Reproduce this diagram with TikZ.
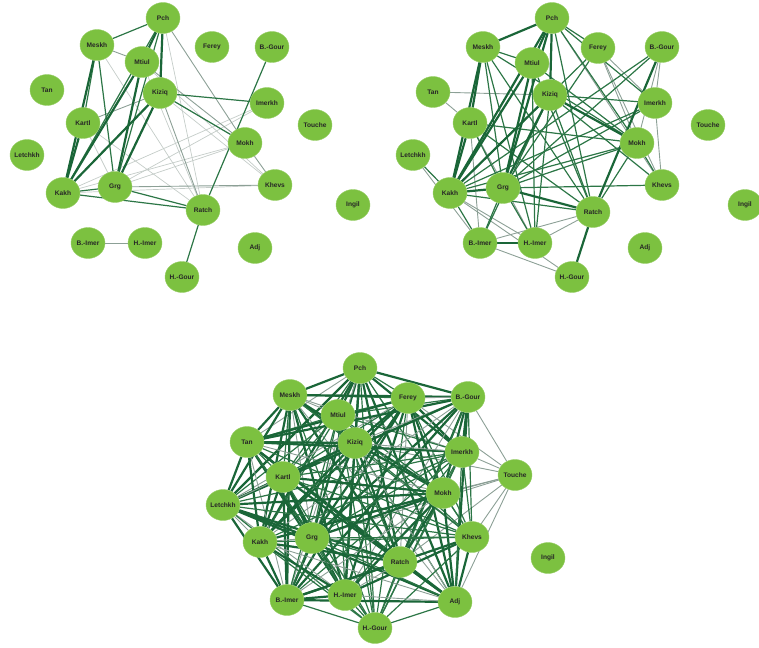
\documentclass[tikz,border=0pt]{standalone}
\usepackage{fontspec}
\setsansfont{Liberation Sans}
\usetikzlibrary{shapes.geometric,backgrounds}
\definecolor{dialgreen}{RGB}{124,193,64}
\definecolor{edgedark}{RGB}{26,102,56}
\definecolor{edgemid}{RGB}{44,118,70}
\definecolor{edgegray}{RGB}{140,160,150}
\definecolor{edgefaint}{RGB}{196,204,200}
\begin{document}
\begin{tikzpicture}[x=1pt,y=-1pt,line cap=round,
  font=\sffamily\bfseries\fontsize{6.6}{7}\selectfont]
\tikzset{dial/.style={ellipse,fill=dialgreen,draw=dialgreen!80!white,inner sep=0pt,
    minimum width=34pt,minimum height=31pt,text=black!85},
  strong/.style={draw=edgedark,line width=2.2pt},
  mid/.style={draw=edgemid,line width=1.2pt},
  weak/.style={draw=edgegray,line width=0.9pt},
  faint/.style={draw=edgefaint,line width=0.7pt},
  w0/.style={strong},w1/.style={strong},w2/.style={strong},w3/.style={mid},w4/.style={weak}}
\useasboundingbox (0,0) rectangle (759,647);
% first network
\foreach \n/\t/\x/\y in {pch/Pch/163/18,meskh/Meskh/97/45,mtiul/Mtiul/142/62,
  ferey/Ferey/212/47,bgour/B.-Gour/272/47,tan/Tan/47/90,kiziq/Kiziq/160/93,
  imerkh/Imerkh/267/103,touche/Touche/315/125,kartl/Kartl/83/123,
  letchkh/Letchkh/27/155,mokh/Mokh/245/143,kakh/Kakh/63/193,grg/Grg/115/187,
  khevs/Khevs/275/185,ratch/Ratch/203/210,ingil/Ingil/353/205,
  bimer/B.-Imer/88/243,himer/H.-Imer/145/243,adj/Adj/255/248,hgour/H.-Gour/182/277}
  \node[dial] (a\n) at (\x,\y) {\makebox[0pt]{\t}};
% second network
\foreach \n/\t/\x/\y in {pch/Pch/552/18,meskh/Meskh/483/47,mtiul/Mtiul/532/63,
  ferey/Ferey/598/48,bgour/B.-Gour/662/47,tan/Tan/433/92,kiziq/Kiziq/550/95,
  imerkh/Imerkh/655/103,touche/Touche/708/125,kartl/Kartl/470/123,
  letchkh/Letchkh/413/155,mokh/Mokh/637/143,kakh/Kakh/450/193,grg/Grg/503/188,
  khevs/Khevs/662/185,ratch/Ratch/593/212,ingil/Ingil/745/205,
  bimer/B.-Imer/480/243,himer/H.-Imer/535/243,adj/Adj/645/248,hgour/H.-Gour/572/277}
  \node[dial] (b\n) at (\x,\y) {\makebox[0pt]{\t}};
% third network
\foreach \n/\t/\x/\y in {pch/Pch/360/368,meskh/Meskh/290/395,mtiul/Mtiul/338/415,
  ferey/Ferey/408/398,bgour/B.-Gour/468/397,tan/Tan/247/442,kiziq/Kiziq/355/443,
  imerkh/Imerkh/462/452,touche/Touche/515/475,kartl/Kartl/283/477,
  letchkh/Letchkh/223/505,mokh/Mokh/443/493,kakh/Kakh/260/542,grg/Grg/312/538,
  khevs/Khevs/472/537,ratch/Ratch/400/562,ingil/Ingil/548/558,
  bimer/B.-Imer/287/600,himer/H.-Imer/345/595,adj/Adj/455/602,hgour/H.-Gour/375/628}
  \node[dial] (c\n) at (\x,\y) {\makebox[0pt]{\t}};
\begin{scope}[on background layer]
% edges, first network
\foreach \u/\v in {kiziq/mokh,grg/mokh,kakh/mokh,kakh/imerkh,grg/imerkh,
  mtiul/ratch,meskh/ratch,pch/ratch,kiziq/khevs,kartl/grg,kartl/ratch,
  mtiul/khevs,kakh/khevs}
  \draw[faint] (a\u) -- (a\v);
\foreach \u/\v in {pch/mokh,meskh/mtiul,kiziq/ratch,grg/khevs,mtiul/mokh,
  kiziq/kartl,mokh/khevs,bimer/himer}
  \draw[weak] (a\u) -- (a\v);
\foreach \u/\v in {pch/meskh,kiziq/imerkh,kiziq/mokh,grg/ratch,kakh/ratch,
  bgour/ratch,ratch/hgour,kakh/grg,pch/kakh,pch/grg,meskh/kartl,meskh/grg}
  \draw[mid] (a\u) -- (a\v);
\foreach \u/\v in {pch/mtiul,pch/kiziq,mtiul/kakh,kiziq/kakh,mtiul/grg,
  kiziq/grg,meskh/kakh,kartl/kakh}
  \draw[strong] (a\u) -- (a\v);
% edges, second network
\foreach \u/\v in {bimer/ratch,himer/ratch,bimer/hgour,kakh/himer,bimer/kartl,
  bgour/imerkh,ferey/khevs,letchkh/bimer,tan/kartl,kartl/himer,pch/khevs,
  ferey/mokh,ferey/imerkh,imerkh/khevs,kakh/hgour,tan/kiziq,bgour/mokh}
  \draw[weak] (b\u) -- (b\v);
\foreach \u/\v in {pch/mokh,pch/imerkh,pch/ratch,pch/ferey,meskh/grg,meskh/mtiul,
  meskh/mokh,meskh/ratch,kiziq/mokh,kiziq/imerkh,kiziq/ratch,kiziq/khevs,
  kiziq/bimer,mtiul/mokh,mtiul/ratch,kakh/ratch,kakh/mokh,kakh/imerkh,grg/mokh,
  grg/himer,grg/bimer,kakh/bimer,ferey/kakh,ferey/grg,bgour/grg,bgour/kakh,
  imerkh/grg,mokh/khevs,mokh/ratch,kartl/grg,kartl/ratch,letchkh/kakh,
  kiziq/himer,mtiul/himer,meskh/himer,grg/khevs,kartl/mokh}
  \draw[mid] (b\u) -- (b\v);
\foreach \u/\v in {pch/mtiul,pch/kiziq,pch/meskh,mtiul/kakh,kiziq/kakh,mtiul/grg,
  kiziq/grg,meskh/kakh,kartl/kakh,meskh/kartl,kakh/grg,grg/ratch,ratch/hgour,
  bgour/ratch,bimer/himer,pch/kakh,pch/grg,kiziq/mokh}
  \draw[strong] (b\u) -- (b\v);
% edges, third network
\foreach \u/\v in {touche/imerkh,touche/mokh,touche/khevs,touche/bgour,
  touche/adj,touche/ratch,touche/kiziq,touche/grg,touche/ferey,touche/kakh}
  \draw[weak] (c\u) -- (c\v);
\foreach \u [count=\i] in {pch,meskh,mtiul,ferey,bgour,tan,kiziq,imerkh,kartl,
  letchkh,mokh,kakh,grg,khevs,ratch,bimer,himer,adj,hgour}
  \foreach \v [count=\j] in {pch,meskh,mtiul,ferey,bgour,tan,kiziq,imerkh,kartl,
    letchkh,mokh,kakh,grg,khevs,ratch,bimer,himer,adj,hgour}{
    \ifnum\j>\i
      \pgfmathtruncatemacro\k{mod(\i*\j+\i+2*\j,5)}
      \draw[w\k] (c\u) -- (c\v);
    \fi}
\end{scope}
\end{tikzpicture}
\end{document}
